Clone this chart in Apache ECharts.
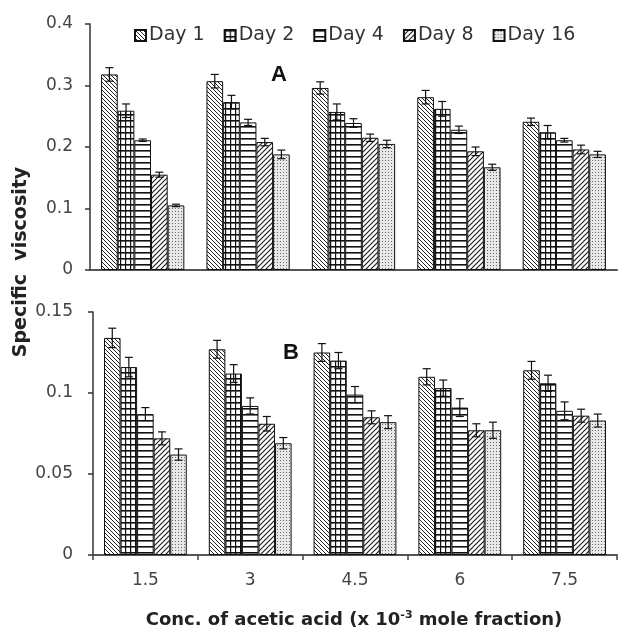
<!DOCTYPE html>
<html>
<head>
<meta charset="utf-8">
<script src="https://cdn.jsdelivr.net/npm/echarts@6/dist/echarts.min.js"></script>
<style>html,body{margin:0;padding:0;background:#fff}#c{width:618px;height:638px}</style>
</head>
<body>
<div id="c"></div>
<script>
// ---------- data ----------
const categories = ['1.5', '3', '4.5', '6', '7.5'];
const seriesNames = ['Day 1', 'Day 2', 'Day 4', 'Day 8', 'Day 16'];

// Panel A
const topDay1 = [0.318, 0.307, 0.296, 0.281, 0.241];
const topDay2 = [0.259, 0.273, 0.257, 0.262, 0.224];
const topDay4 = [0.211, 0.240, 0.239, 0.228, 0.211];
const topDay8 = [0.155, 0.208, 0.215, 0.193, 0.196];
const topDay16 = [0.105, 0.188, 0.205, 0.167, 0.188];
const topDay1Err = [0.011, 0.011, 0.010, 0.011, 0.006];
const topDay2Err = [0.011, 0.011, 0.013, 0.012, 0.011];
const topDay4Err = [0.002, 0.005, 0.007, 0.006, 0.003];
const topDay8Err = [0.004, 0.006, 0.006, 0.007, 0.007];
const topDay16Err = [0.002, 0.007, 0.006, 0.005, 0.005];

// Panel B
const botDay1 = [0.134, 0.127, 0.125, 0.110, 0.114];
const botDay2 = [0.116, 0.112, 0.120, 0.103, 0.106];
const botDay4 = [0.087, 0.092, 0.099, 0.091, 0.089];
const botDay8 = [0.072, 0.081, 0.085, 0.077, 0.086];
const botDay16 = [0.062, 0.069, 0.082, 0.077, 0.083];
const botDay1Err = [0.006, 0.0055, 0.0055, 0.005, 0.0055];
const botDay2Err = [0.006, 0.0055, 0.005, 0.005, 0.005];
const botDay4Err = [0.004, 0.005, 0.005, 0.0055, 0.0055];
const botDay8Err = [0.004, 0.0045, 0.004, 0.004, 0.004];
const botDay16Err = [0.0035, 0.0035, 0.004, 0.005, 0.004];

const topTicks = [0, 0.1, 0.2, 0.3, 0.4];
const botTicks = [0, 0.05, 0.1, 0.15];

const topValues = [topDay1, topDay2, topDay4, topDay8, topDay16];
const topErrs = [topDay1Err, topDay2Err, topDay4Err, topDay8Err, topDay16Err];
const botValues = [botDay1, botDay2, botDay4, botDay8, botDay16];
const botErrs = [botDay1Err, botDay2Err, botDay4Err, botDay8Err, botDay16Err];

// ---------- patterns ----------
function makePattern(kind) {
  const c = document.createElement('canvas');
  let w = 4, h = 4;
  if (kind === 'back') { w = 4; h = 4; }
  if (kind === 'fwd') { w = 5; h = 5; }
  if (kind === 'grid') { w = 5; h = 6; }
  if (kind === 'horiz') { w = 4; h = 6; }
  if (kind === 'dots') { w = 3; h = 3; }
  c.width = w; c.height = h;
  const g = c.getContext('2d');
  g.fillStyle = '#ffffff';
  g.fillRect(0, 0, w, h);
  g.strokeStyle = '#222';
  if (kind === 'back') {
    g.lineWidth = 1;
    g.beginPath();
    g.moveTo(-1, -1); g.lineTo(w + 1, h + 1);
    g.moveTo(-1, h - 1); g.lineTo(1, h + 1);
    g.moveTo(w - 1, -1); g.lineTo(w + 1, 1);
    g.stroke();
  } else if (kind === 'fwd') {
    g.lineWidth = 1.2;
    g.beginPath();
    g.moveTo(-1, h + 1); g.lineTo(w + 1, -1);
    g.moveTo(-1, 1); g.lineTo(1, -1);
    g.moveTo(w - 1, h + 1); g.lineTo(w + 1, h - 1);
    g.stroke();
  } else if (kind === 'grid') {
    g.fillStyle = '#111';
    g.fillRect(0, 0, 1.2, h);
    g.fillRect(0, 0, w, 1.6);
  } else if (kind === 'horiz') {
    g.fillStyle = '#111';
    g.fillRect(0, 0, w, 1.6);
  } else if (kind === 'dots') {
    g.fillStyle = '#e8e8e8';
    g.fillRect(0, 0, w, h);
    g.fillStyle = '#666';
    g.fillRect(1, 1, 1, 1);
  }
  return { image: c, repeat: 'repeat' };
}
const patterns = [makePattern('back'), makePattern('grid'), makePattern('horiz'), makePattern('fwd'), makePattern('dots')];

// ---------- layout ----------
const FONT = 'DejaVu Sans, Liberation Sans, sans-serif';
const CAT_GAP = 0.21;

function errSeries(values, errs, axisIdx) {
  const data = [];
  values.forEach((arr, si) => arr.forEach((v, ci) => data.push([ci, v, errs[si][ci], si])));
  return {
    type: 'custom',
    xAxisIndex: axisIdx, yAxisIndex: axisIdx,
    z: 10, silent: true,
    encode: { x: 0, y: 1 },
    data: data,
    renderItem: function (params, api) {
      const ci = api.value(0), v = api.value(1), e = api.value(2), si = api.value(3);
      const c = api.coord([ci, v]);
      const bw = api.size([1, 0])[0];
      const barW = bw * (1 - CAT_GAP) / 5;
      const x = c[0] + (si - 2) * barW;
      const yt = api.coord([ci, v + e])[1];
      const yb = api.coord([ci, v - e])[1];
      const cap = 4;
      const st = { stroke: '#111', lineWidth: 1.2 };
      return {
        type: 'group',
        children: [
          { type: 'line', shape: { x1: x, y1: yt, x2: x, y2: yb }, style: st },
          { type: 'line', shape: { x1: x - cap, y1: yt, x2: x + cap, y2: yt }, style: st },
          { type: 'line', shape: { x1: x - cap, y1: yb, x2: x + cap, y2: yb }, style: st }
        ]
      };
    }
  };
}

const series = [];
seriesNames.forEach((name, si) => {
  series.push({
    name: name, type: 'bar', xAxisIndex: 0, yAxisIndex: 0,
    data: topValues[si], barGap: '0%', barCategoryGap: (CAT_GAP * 100) + '%',
    itemStyle: { color: patterns[si], borderColor: '#111', borderWidth: 1 }
  });
});
seriesNames.forEach((name, si) => {
  series.push({
    name: name, type: 'bar', xAxisIndex: 1, yAxisIndex: 1,
    data: botValues[si], barGap: '0%', barCategoryGap: (CAT_GAP * 100) + '%',
    itemStyle: { color: patterns[si], borderColor: '#111', borderWidth: 1 }
  });
});
series.push(errSeries(topValues, topErrs, 0));
series.push(errSeries(botValues, botErrs, 1));

const axisLabelStyle = { color: '#444', fontSize: 17, fontFamily: FONT };

const option = {
  animation: false,
  backgroundColor: '#fff',
  legend: {
    data: seriesNames,
    left: 129, top: 21,
    icon: 'rect', itemWidth: 11, itemHeight: 11, itemGap: 19,
    textStyle: { color: '#333', fontSize: 19, fontFamily: FONT, padding: [0, 0, 0, -2] }
  },
  grid: [
    { left: 90, right: 1, top: 24, bottom: 638 - 270 },
    { left: 93, right: 1, top: 312, bottom: 638 - 555 }
  ],
  xAxis: [
    { type: 'category', gridIndex: 0, data: categories,
      axisLine: { lineStyle: { color: '#555', width: 2 } },
      axisTick: { show: false }, axisLabel: { show: false } },
    { type: 'category', gridIndex: 1, data: categories,
      axisLine: { lineStyle: { color: '#555', width: 2 } },
      axisTick: { show: true, inside: false, length: 5, lineStyle: { color: '#444', width: 1.5 } },
      axisLabel: Object.assign({ margin: 17 }, axisLabelStyle) }
  ],
  yAxis: [
    { type: 'value', gridIndex: 0, min: topTicks[0], max: topTicks[topTicks.length - 1], interval: 0.1,
      splitLine: { show: false },
      axisLine: { show: true, lineStyle: { color: '#333', width: 1.5 } },
      axisTick: { show: true, length: 5, lineStyle: { color: '#333', width: 1.5 } },
      axisLabel: Object.assign({ margin: 17, formatter: v => String(+v.toFixed(2)) }, axisLabelStyle) },
    { type: 'value', gridIndex: 1, min: botTicks[0], max: botTicks[botTicks.length - 1], interval: 0.05,
      splitLine: { show: false },
      axisLine: { show: true, lineStyle: { color: '#333', width: 1.5 } },
      axisTick: { show: true, length: 5, lineStyle: { color: '#333', width: 1.5 } },
      axisLabel: Object.assign({ margin: 20, formatter: v => String(+v.toFixed(2)) }, axisLabelStyle) }
  ],
  graphic: [
    { type: 'text', left: 271, top: 64, z: 20,
      style: { text: 'A', font: 'bold 22px Liberation Sans, Arial, sans-serif', fill: '#111' } },
    { type: 'text', left: 283, top: 342, z: 20,
      style: { text: 'B', font: 'bold 22px Liberation Sans, Arial, sans-serif', fill: '#111' } },
    { type: 'text', x: 21, y: 262, rotation: Math.PI / 2, z: 20,
      style: { text: 'Specific  viscosity', font: 'bold 19px ' + FONT, fill: '#222',
        align: 'center', verticalAlign: 'middle' } },
    { type: 'text', x: 354, y: 620, z: 20,
      style: {
        text: '{a|Conc. of acetic acid (x 10}{s|-3}{a| mole fraction)}',
        align: 'center', verticalAlign: 'middle', fill: '#222',
        rich: {
          a: { fontSize: 18, fontWeight: 'bold', fontFamily: FONT, fill: '#222' },
          s: { fontSize: 11, fontWeight: 'bold', fontFamily: FONT, fill: '#222', padding: [0, 0, 10, 0] }
        }
      } }
  ],
  series: series
};

const chart = echarts.init(document.getElementById('c'), null, { renderer: 'canvas' });
chart.setOption(option);
</script>
</body>
</html>
